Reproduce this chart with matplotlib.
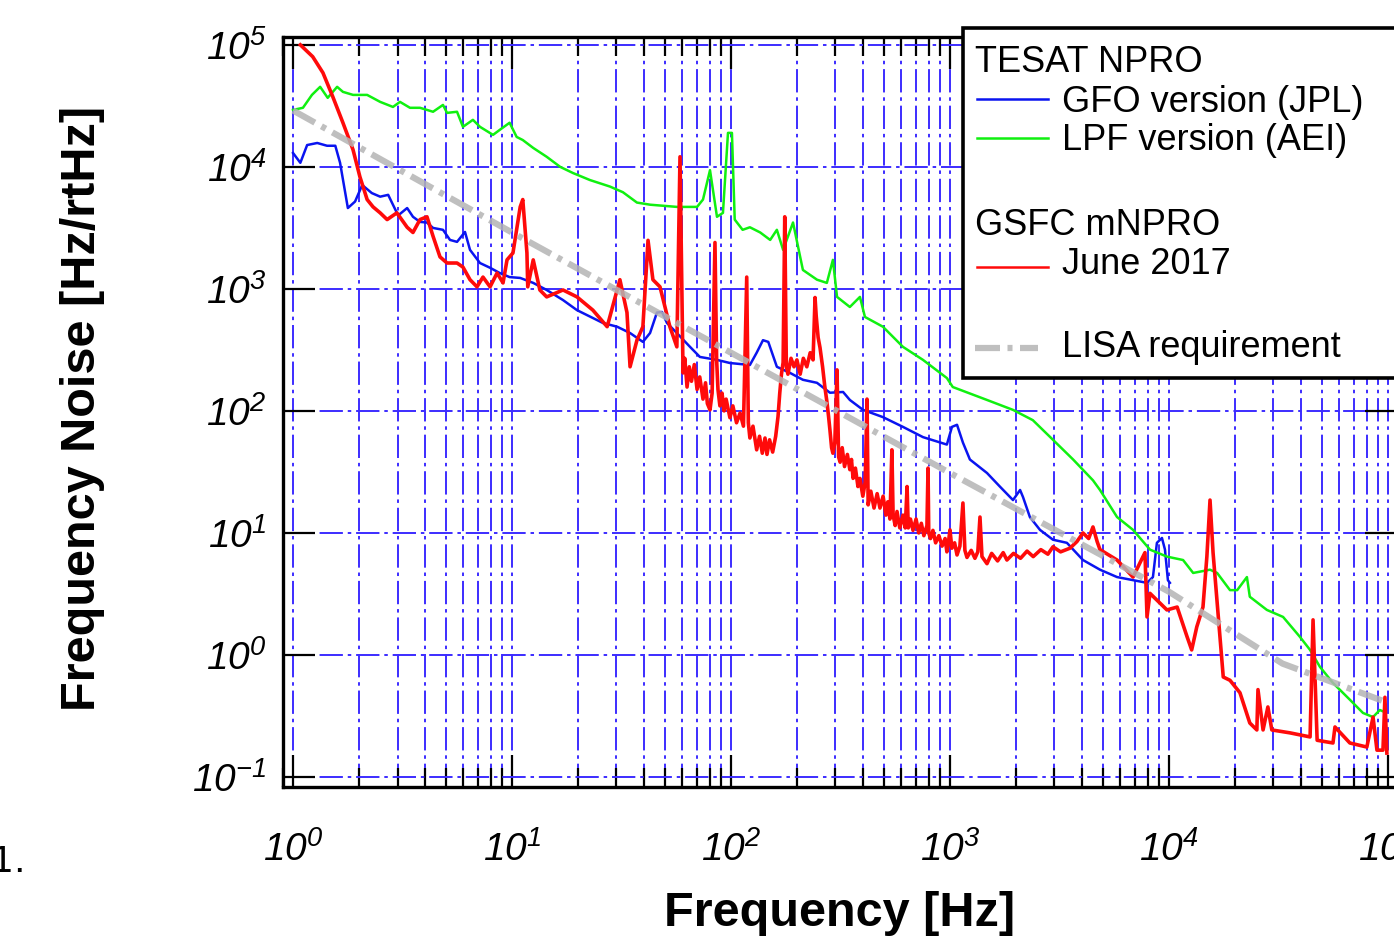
import matplotlib
matplotlib.use('Agg')
import matplotlib.pyplot as plt
import numpy as np
from matplotlib.ticker import LogLocator, FuncFormatter, NullLocator, NullFormatter
from matplotlib.lines import Line2D
from matplotlib.patches import Rectangle

plt.rcParams['font.family'] = ['Liberation Sans', 'DejaVu Sans']
plt.rcParams['mathtext.fontset'] = 'custom'
# only the tick labels use mathtext: make them italic (digits fall back to rm)
plt.rcParams['mathtext.rm'] = 'Liberation Sans:italic'
plt.rcParams['mathtext.it'] = 'Liberation Sans:italic'
plt.rcParams['mathtext.bf'] = 'Liberation Sans:bold'

# ---------------- data ----------------
blue_f = [1.00, 1.08, 1.16, 1.29, 1.43, 1.56, 1.64, 1.78, 1.92, 2.07,
          2.29, 2.50, 2.72, 3.02, 3.32, 3.53, 3.80, 4.09, 4.36, 4.84,
          5.21, 5.61, 6.10, 6.43, 7.14, 7.94, 8.79, 9.75, 10.9, 12.5,
          14.4, 17.1, 19.8, 26.0, 30.2, 34.6, 39.6, 42.7, 45.9, 48.4,
          51.0, 56.6, 65.0, 72.1, 86.3, 98.9, 122, 131, 140, 148,
          162, 186, 213, 247, 283, 325, 349, 401, 494, 610,
          753, 968, 1021, 1077, 1146, 1233, 1476, 1690, 1940, 2090,
          2155, 2317, 2576, 2954, 3420, 4049, 4842, 5794, 7940, 8450,
          8810, 9290, 9590, 9890, 10100]
blue_v = [1.30e4, 1.08e4, 1.51e4, 1.57e4, 1.49e4, 1.49e4, 1.08e4, 4.6e3, 5.2e3, 7.1e3,
          6.1e3, 5.7e3, 5.9e3, 4.0e3, 4.6e3, 3.9e3, 3.54e3, 3.5e3, 3.16e3, 3.05e3,
          2.52e3, 2.43e3, 2.93e3, 2.09e3, 1.63e3, 1.49e3, 1.35e3, 1.25e3, 1.23e3, 1.12e3,
          980, 810, 670, 526, 490, 435, 368, 435, 640, 647,
          526, 435, 335, 277, 262, 247, 238, 300, 380, 368,
          230, 205, 180, 170, 141, 143, 123, 102, 89, 74,
          61, 53, 74, 77, 55, 40, 31, 24, 18.6, 22.5,
          19.7, 13.5, 10.6, 8.8, 8.3, 6.0, 5.0, 4.35, 3.9, 4.35,
          8.3, 9.1, 7.3, 4.1, 3.9]

green_f = [1.00, 1.11, 1.22, 1.33, 1.44, 1.59, 1.69, 1.88, 2.18, 2.50,
           2.86, 3.08, 3.42, 3.80, 4.36, 4.84, 5.05, 5.61, 5.97, 6.63,
           7.14, 8.19, 8.79, 9.75, 10.5, 11.2, 12.5, 14.4, 16.6, 19.0,
           22.7, 28.0, 32.1, 37.2, 42.7, 56.6, 70.0, 74.5, 80.2, 86.3,
           91.9, 96.9, 101, 104, 113, 122, 136, 151, 162, 173,
           192, 213, 247, 274, 292, 305, 349, 388, 409, 494,
           610, 753, 968, 1030, 1476, 1940, 2390, 2954, 3650, 4498,
           4842, 5794, 6855, 8190, 9790, 11600, 12900, 15400, 16600, 19000,
           20500, 22700, 23400, 28000, 33200, 39600, 44100, 48900, 56100, 67000,
           76900, 85500, 91800, 96900]
green_v = [2.93e4, 3.05e4, 3.89e4, 4.53e4, 3.68e4, 4.53e4, 4.12e4, 3.89e4, 3.89e4, 3.41e4,
           3.10e4, 3.41e4, 3.05e4, 3.05e4, 2.83e4, 3.22e4, 2.77e4, 2.83e4, 2.13e4, 2.43e4,
           2.13e4, 1.83e4, 2.01e4, 2.30e4, 1.76e4, 1.66e4, 1.43e4, 1.21e4, 1.0e4, 8.9e3,
           7.8e3, 6.9e3, 6.2e3, 5.1e3, 4.9e3, 4.7e3, 4.7e3, 5.4e3, 9.4e3, 3.9e3,
           4.2e3, 1.9e4, 1.9e4, 3.7e3, 3.05e3, 3.2e3, 2.9e3, 2.52e3, 3.05e3, 2.09e3,
           3.5e3, 1.43e3, 1.19e3, 1.12e3, 1.73e3, 860, 711, 860, 589, 490,
           335, 262, 186, 157, 123, 102, 84, 58, 40, 27,
           22.5, 13.5, 10.6, 7.3, 6.4, 6.0, 4.7, 5.0, 4.7, 3.4,
           3.4, 4.35, 3.0, 2.34, 2.05, 1.41, 1.10, 0.80, 0.59, 0.43,
           0.335, 0.31, 0.354, 0.34]

red_f = [1.08, 1.23, 1.37, 1.52, 1.69, 1.88, 2.02, 2.18, 2.32, 2.50,
         2.69, 2.98, 3.32, 3.53, 3.80, 4.09, 4.36, 4.69, 5.05, 5.61,
         5.97, 6.43, 6.92, 7.37, 7.94, 8.55, 9.10, 9.49, 10.1, 10.9,
         11.2, 11.7, 11.8, 12.5, 13.4, 14.4, 17.1, 19.8, 23.4, 27.2,
         30.2, 31.1, 33.5, 34.6, 37.2, 39.6, 41.8, 44.0, 47.4, 52.6,
         56.6, 58.5, 60.4, 61.5, 63.0, 64.5, 66.0, 68.0, 70.0, 72.0,
         74.5, 76.5, 78.0, 80.2, 82.0, 84.5, 86.0, 87.2, 89.0, 91.0,
         93.0, 95.0, 98.9, 102, 106, 110, 114, 118, 120, 122,
         126, 131, 135, 139, 143, 146, 150, 155, 160, 164,
         167, 170, 173, 176, 179, 182, 188, 194, 200, 207,
         214, 222, 230, 237, 242, 245, 250, 255, 262, 268,
         274, 279, 283, 288, 292, 298, 305, 310, 315, 322,
         330, 340, 349, 355, 361, 370, 380, 388, 400, 410,
         418, 423, 435, 450, 465, 479, 495, 510, 520, 532,
         543, 550, 562, 573, 590, 610, 625, 637, 645, 660,
         678, 700, 720, 740, 760, 785, 794, 800, 815, 836,
         860, 890, 920, 950, 968, 985, 1000, 1020, 1050, 1077,
         1110, 1146, 1170, 1196, 1250, 1300, 1340, 1371, 1400, 1476,
         1550, 1650, 1750, 1820, 1950, 2100, 2249, 2400, 2600, 2800,
         2954, 3200, 3531, 3800, 4049, 4300, 4498, 4700, 4842, 5794,
         6855, 7770, 7940, 8190, 9790, 10900, 12100, 12700, 13400, 14300,
         14900, 15400, 15900, 17100, 17700, 19000, 21100, 23400, 25200, 25500,
         26900, 28300, 29500, 35700, 44100, 45500, 47500, 56100, 57300, 67000,
         80100, 85500, 89100, 94900, 96900, 98900]
red_v = [1.0e5, 8.0e4, 5.9e4, 3.75e4, 2.3e4, 1.38e4, 8.3e3, 5.4e3, 4.7e3, 4.2e3,
         3.7e3, 4.2e3, 3.2e3, 2.9e3, 3.7e3, 3.9e3, 2.7e3, 1.83e3, 1.63e3, 1.63e3,
         1.51e3, 1.19e3, 1.04e3, 1.25e3, 1.04e3, 1.35e3, 1.12e3, 1.73e3, 1.97e3, 4.7e3,
         5.4e3, 1.97e3, 1.04e3, 1.73e3, 980, 860, 980, 860, 670, 490,
         980, 1.19e3, 640, 230, 380, 490, 2.5e3, 1.19e3, 1.04e3, 490,
         335, 1.21e4, 205, 270, 157, 230, 175, 240, 150, 190,
         125, 170, 115, 102, 140, 2.4e3, 260, 150, 110, 140,
         100, 125, 88, 110, 80, 96, 75, 1.25e3, 80, 60,
         75, 48, 62, 45, 60, 44, 58, 46, 62, 90,
         140, 200, 250, 3.9e3, 230, 200, 270, 230, 262, 200,
         270, 230, 300, 262, 850, 600, 400, 330, 230, 160,
         120, 90, 70, 50, 45, 55, 217, 42, 38, 50,
         35, 44, 33, 40, 28, 34, 24, 28, 20, 26,
         125, 17, 22, 16, 21, 16, 20, 14, 18, 13,
         48, 14, 11.5, 15, 11, 14, 11, 24, 11, 13,
         10.5, 13, 10, 12, 9.5, 11.5, 34, 10, 9, 10.5,
         8.3, 9.5, 7.8, 9, 7, 8.5, 10.6, 7.5, 8.3, 6.6,
         7.8, 17.6, 7.2, 6.3, 7.2, 6.2, 7.0, 13.5, 6.4, 5.6,
         6.8, 5.9, 6.9, 6.0, 6.8, 6.2, 7.1, 6.4, 7.3, 6.7,
         7.7, 7.0, 7.5, 8.5, 10.0, 9.0, 11.2, 8.5, 7.3, 6.0,
         4.35, 6.9, 2.05, 3.2, 2.34, 2.47, 1.41, 1.10, 1.70, 2.47,
         6.4, 18.6, 6.9, 1.41, 0.66, 0.62, 0.49, 0.277, 0.243, 0.52,
         0.243, 0.375, 0.243, 0.23, 0.213, 1.94, 0.20, 0.19, 0.257, 0.19,
         0.176, 0.31, 0.166, 0.166, 0.45, 0.157]

lisa_f = [1, 10, 100, 1000, 10000, 33000, 95000]
lisa_v = [2.9e4, 2.9e3, 300, 31, 3.3, 0.85, 0.42]

legend_rows = [("TESAT NPRO", None),
               ("GFO version (JPL)", "blue"),
               ("LPF version (AEI)", "green"),
               ("GSFC mNPRO", None),
               ("June 2017", "red"),
               ("LISA requirement", "lisa")]

# ---------------- styling ----------------
W, H = 1394, 943
C_BLUE = '#0a14f0'
C_GREEN = '#10f010'
C_RED = '#ff0a0a'
C_LISA = '#b4b4b4'
C_GRID = '#3c2cff'
LISA_LS = (0, (4, 1.2, 0.8, 1.2))

fig = plt.figure(figsize=(W / 100, H / 100), dpi=100)
fig.patch.set_facecolor('white')
ax = fig.add_axes([283 / W, (H - 787) / H, (1397 - 283) / W, (787 - 37) / H])
ax.set_xscale('log')
ax.set_yscale('log')
ax.set_xlim(0.9, 1.1e5)
ax.set_ylim(0.0828, 1.16e5)

ax.plot(blue_f, blue_v, color=C_BLUE, lw=1.8, zorder=3)
ax.plot(green_f, green_v, color=C_GREEN, lw=1.8, zorder=3)
ax.plot(red_f, red_v, color=C_RED, lw=2.6, zorder=4)
ax.plot(lisa_f, lisa_v, color=C_LISA, lw=4.5, alpha=0.85,
        linestyle=LISA_LS, zorder=5)

ax.xaxis.set_major_locator(LogLocator(base=10, numticks=12))
ax.xaxis.set_minor_locator(LogLocator(base=10, subs=np.arange(2, 10), numticks=12))
ax.yaxis.set_major_locator(LogLocator(base=10, numticks=12))
ax.yaxis.set_minor_locator(NullLocator())
fmt = FuncFormatter(lambda v, p: r'$\mathrm{10^{%d}}$' % int(round(np.log10(v))))
ax.xaxis.set_major_formatter(fmt)
ax.yaxis.set_major_formatter(fmt)
ax.xaxis.set_minor_formatter(NullFormatter())

grid_ls = (0, (12, 2.5, 1.8, 2.5))
ax.grid(True, which='major', axis='both', color=C_GRID, lw=1.4,
        linestyle=grid_ls, zorder=1)
ax.grid(True, which='minor', axis='x', color=C_GRID, lw=1.4,
        linestyle=grid_ls, zorder=1)
ax.set_axisbelow(True)

ax.tick_params(which='major', direction='in', length=23, width=1.6,
               top=True, right=True, labelsize=28, color='black')
ax.tick_params(which='minor', direction='in', length=14, width=1.6,
               top=True, right=True)
ax.tick_params(axis='y', which='major', pad=12)
ax.tick_params(axis='x', which='major', pad=32)
for s in ax.spines.values():
    s.set_linewidth(2.4)
    s.set_color('black')

ax.set_xlabel('Frequency [Hz]', fontsize=35, fontweight='bold', va='center')
ax.xaxis.set_label_coords(0.5, -(914 - 787) / 750)
ax.set_ylabel('Frequency Noise [Hz/rtHz]', fontsize=35, fontweight='bold', va='center')
ax.yaxis.set_label_coords((83 - 283) / 1114, (787 - 408) / 750)

# ---------------- legend (drawn as a box) ----------------
def fx(px):
    return px / W


def fy(py):
    return 1 - py / H


fig.add_artist(Rectangle((fx(963), fy(378)), (1410 - 963) / W, (378 - 28) / H,
                         transform=fig.transFigure, facecolor='white',
                         edgecolor='black', lw=2.6, zorder=10))
row_base = [72, 112, 150, 235, 274, 357]
row_line = [None, 99, 138, None, 267, 348]
styles = {
    'blue': dict(color=C_BLUE, lw=1.8),
    'green': dict(color=C_GREEN, lw=1.8),
    'red': dict(color=C_RED, lw=1.8),
    'lisa': dict(color=C_LISA, lw=4.5, alpha=0.85, linestyle=LISA_LS),
}
for (label, key), yb, yl in zip(legend_rows, row_base, row_line):
    if key is None:
        fig.text(fx(975), fy(yb), label, fontsize=26, va='baseline', ha='left', zorder=11)
    else:
        x0, x1 = (977, 1048) if key != 'lisa' else (975, 1038)
        fig.add_artist(Line2D([fx(x0), fx(x1)], [fy(yl), fy(yl)],
                              transform=fig.transFigure, zorder=11, **styles[key]))
        fig.text(fx(1062), fy(yb), label, fontsize=26, va='baseline', ha='left', zorder=11)

fig.text(fx(-9), fy(872), '1.', fontsize=26, va='baseline', ha='left',
         family='DejaVu Sans')

fig.savefig('out.png', dpi=100)
